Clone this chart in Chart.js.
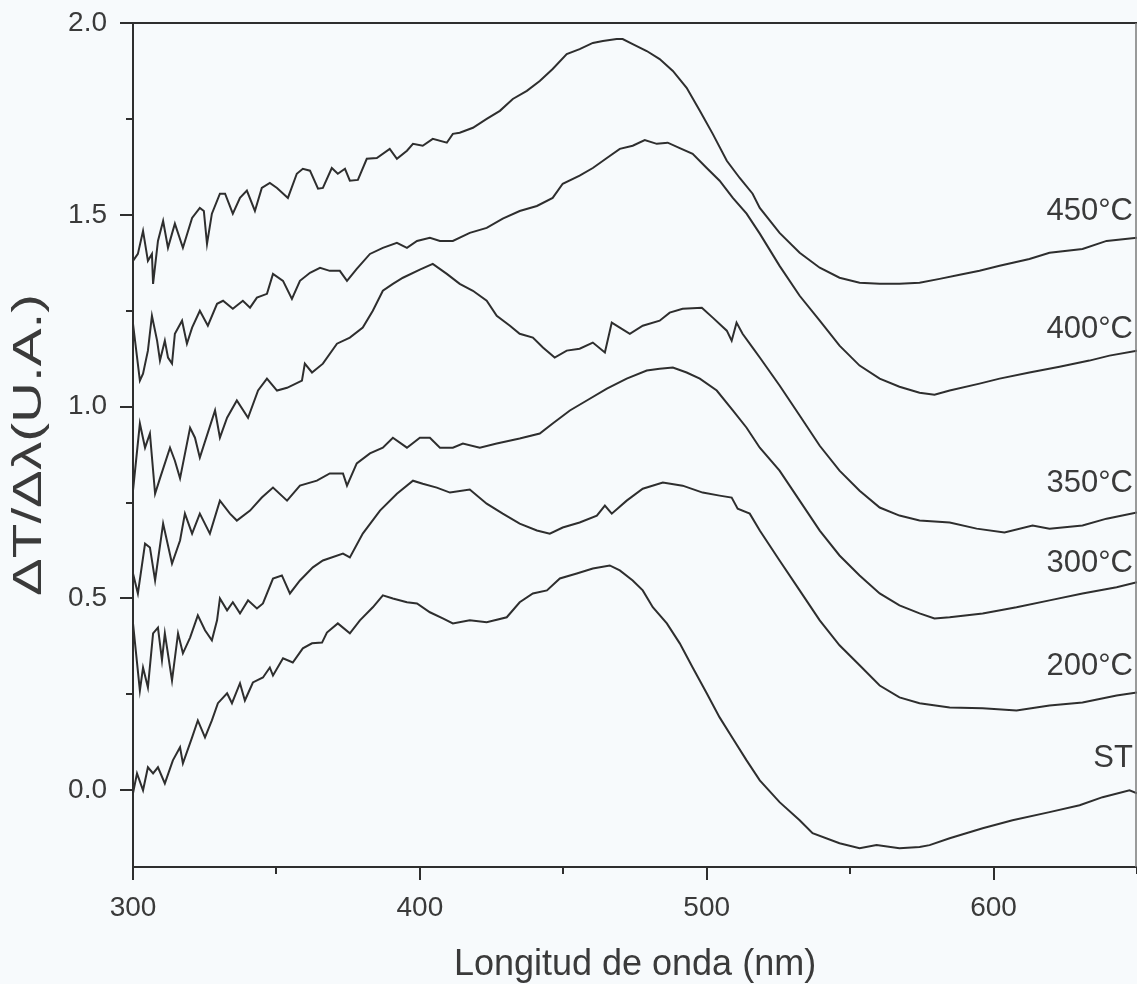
<!DOCTYPE html>
<html>
<head>
<meta charset="utf-8">
<script src="https://cdn.jsdelivr.net/npm/chart.js@4.4.1/dist/chart.umd.min.js"></script>
<style>
html,body{margin:0;padding:0;background:#f7fafc;}
#wrap{width:1137px;height:984px;position:relative;}
</style>
</head>
<body>
<div id="wrap"><canvas id="c" width="1137" height="984"></canvas></div>
<script>
// ---- Data (wavelength in nm, signal in U.A.) ----
const seriesNames = ["450°C","400°C","350°C","300°C","200°C","ST"];

const wl450 = [300.0,301.7,303.5,305.2,306.6,307.0,308.7,310.5,312.2,313.6,314.6,317.4,320.6,323.3,324.7,325.8,327.5,330.3,332.1,334.8,337.3,339.7,342.5,344.9,347.7,350.2,354.0,357.1,359.2,361.7,364.5,366.2,369.3,371.4,373.9,375.6,378.4,381.5,385.0,389.5,392.0,395.5,397.6,401.0,404.5,409.4,411.5,413.9,418.5,423.3,427.9,432.4,437.3,441.8,446.3,451.2,455.7,460.3,463.8,468.6,470.7,474.2,479.1,483.6,488.2,493.0,497.6,502.1,507.0,511.5,516.0,518.5,525.4,532.4,539.4,546.3,553.3,560.3,567.2,574.2,581.2,588.2,595.1,602.1,612.5,619.5,631.0,639.4,650.0];
const v450 = [1.380,1.398,1.458,1.380,1.398,1.320,1.432,1.484,1.414,1.451,1.477,1.414,1.492,1.518,1.510,1.424,1.503,1.555,1.555,1.503,1.544,1.563,1.510,1.570,1.583,1.570,1.544,1.607,1.620,1.615,1.568,1.570,1.622,1.607,1.620,1.589,1.591,1.646,1.648,1.672,1.646,1.667,1.685,1.680,1.698,1.688,1.711,1.714,1.727,1.750,1.771,1.802,1.823,1.849,1.880,1.919,1.932,1.948,1.953,1.958,1.958,1.945,1.927,1.906,1.875,1.831,1.771,1.711,1.641,1.596,1.555,1.518,1.453,1.401,1.362,1.336,1.323,1.320,1.320,1.323,1.333,1.344,1.354,1.367,1.385,1.401,1.411,1.432,1.440];

const wl400 = [300.0,302.4,303.5,305.2,306.6,308.4,309.4,311.1,312.2,313.6,314.6,317.1,318.8,320.6,323.3,326.1,329.3,331.4,334.8,338.3,340.8,343.2,346.7,348.8,352.3,355.4,358.2,361.7,365.2,368.6,372.1,374.6,378.0,382.6,387.1,392.0,395.5,399.0,403.5,407.0,411.5,417.4,423.3,428.9,434.8,440.8,446.3,449.8,455.7,460.3,465.2,469.7,474.2,478.4,482.6,486.4,490.6,495.1,500.0,504.5,509.1,513.9,518.5,525.4,532.4,539.4,546.3,553.3,560.3,567.2,574.2,579.4,584.7,595.1,602.1,612.5,623.0,633.4,640.4,650.0];
const v400 = [1.216,1.068,1.086,1.146,1.237,1.172,1.120,1.172,1.128,1.112,1.190,1.224,1.164,1.206,1.250,1.211,1.268,1.276,1.255,1.276,1.258,1.284,1.294,1.346,1.328,1.281,1.328,1.349,1.362,1.354,1.354,1.328,1.359,1.398,1.414,1.427,1.414,1.432,1.440,1.432,1.432,1.453,1.466,1.490,1.510,1.523,1.544,1.581,1.602,1.622,1.648,1.672,1.680,1.695,1.685,1.688,1.674,1.659,1.622,1.589,1.544,1.503,1.451,1.367,1.289,1.224,1.159,1.107,1.073,1.052,1.036,1.031,1.042,1.060,1.073,1.089,1.104,1.120,1.133,1.146];

const wl350 = [300.0,302.4,304.2,305.9,307.7,309.4,312.9,314.6,316.4,319.9,321.6,323.3,328.6,330.3,332.8,336.2,340.1,343.6,346.7,350.2,353.7,358.9,359.9,362.4,366.2,371.1,375.6,380.1,383.6,387.1,390.6,394.1,400.0,404.5,409.4,413.9,418.5,423.3,426.8,431.4,434.8,439.4,442.9,447.0,451.2,455.7,460.3,464.5,466.9,469.7,473.2,477.7,483.6,487.1,491.6,498.3,502.1,507.0,508.7,510.4,512.5,516.0,518.5,525.4,532.4,539.4,546.3,553.3,560.3,567.2,574.2,584.7,594.1,603.8,613.6,619.5,631.0,639.4,650.0];
const v350 = [0.781,0.956,0.893,0.930,0.773,0.813,0.893,0.859,0.813,0.945,0.919,0.867,0.990,0.919,0.971,1.016,0.971,1.042,1.073,1.042,1.049,1.068,1.112,1.089,1.112,1.164,1.180,1.206,1.250,1.302,1.320,1.336,1.357,1.372,1.346,1.320,1.302,1.276,1.237,1.211,1.190,1.180,1.154,1.128,1.146,1.151,1.167,1.141,1.219,1.206,1.190,1.211,1.224,1.245,1.255,1.258,1.232,1.198,1.172,1.219,1.190,1.154,1.128,1.055,0.977,0.898,0.833,0.781,0.737,0.716,0.703,0.698,0.682,0.672,0.690,0.682,0.690,0.708,0.724];

const wl300 = [300.0,301.7,304.2,305.9,307.7,310.5,313.6,316.4,318.1,320.6,323.3,326.8,330.3,333.8,336.2,340.8,344.9,348.8,353.7,358.2,364.1,368.6,373.2,374.6,378.0,382.6,387.1,390.6,395.5,400.0,403.5,407.0,411.5,415.0,420.9,426.8,434.8,441.8,446.3,452.3,458.2,465.2,472.1,479.1,483.6,488.2,493.0,497.6,503.5,509.1,513.9,518.5,525.4,532.4,539.4,546.3,553.3,560.3,567.2,574.2,579.4,584.7,596.2,608.0,619.5,631.0,642.9,650.0];
const v300 = [0.565,0.513,0.643,0.633,0.547,0.695,0.591,0.651,0.721,0.669,0.721,0.669,0.755,0.721,0.703,0.729,0.763,0.789,0.755,0.794,0.807,0.826,0.826,0.794,0.852,0.878,0.893,0.919,0.893,0.919,0.919,0.893,0.893,0.904,0.893,0.904,0.917,0.930,0.956,0.990,1.016,1.047,1.073,1.094,1.099,1.102,1.089,1.073,1.042,0.990,0.945,0.893,0.833,0.755,0.677,0.612,0.560,0.513,0.482,0.461,0.448,0.451,0.461,0.477,0.495,0.513,0.529,0.542];

const wl200 = [300.0,302.4,303.5,305.2,307.0,308.7,310.1,311.1,313.6,315.7,317.4,319.9,322.6,325.1,327.5,329.3,330.3,332.8,334.8,337.3,340.1,343.2,345.3,348.8,351.9,354.7,358.2,362.7,366.2,373.2,375.6,380.1,386.1,392.0,397.6,401.0,405.9,410.5,417.4,423.3,428.9,434.8,440.8,445.3,449.8,455.7,461.7,464.5,466.9,472.1,477.7,484.7,491.6,498.6,504.5,508.7,510.8,515.0,518.5,525.4,532.4,539.4,546.3,553.3,560.3,567.2,574.2,584.7,596.2,608.0,619.5,631.0,642.9,650.0];
const v200 = [0.435,0.260,0.320,0.268,0.409,0.424,0.339,0.409,0.286,0.409,0.357,0.398,0.456,0.417,0.391,0.443,0.500,0.469,0.490,0.461,0.495,0.474,0.487,0.552,0.560,0.513,0.547,0.581,0.599,0.617,0.607,0.669,0.729,0.773,0.807,0.799,0.789,0.776,0.784,0.747,0.721,0.695,0.677,0.669,0.685,0.698,0.716,0.742,0.721,0.755,0.786,0.802,0.794,0.776,0.768,0.763,0.734,0.721,0.677,0.599,0.521,0.443,0.378,0.326,0.273,0.242,0.227,0.216,0.214,0.208,0.221,0.229,0.247,0.255];

const wlST = [300.0,301.4,303.5,305.2,307.0,308.7,311.1,313.9,316.4,317.4,320.6,322.6,325.1,327.5,329.6,332.8,334.5,337.3,339.0,341.8,345.3,347.7,348.8,352.3,355.7,359.2,362.4,365.9,367.6,371.4,375.6,379.1,383.6,387.1,390.6,395.5,399.0,403.5,408.0,411.5,417.4,423.3,430.3,434.8,439.4,444.3,448.8,454.7,460.3,466.2,469.7,474.2,477.7,481.2,486.1,490.6,495.1,500.0,504.5,509.1,513.9,518.5,525.4,532.4,536.9,546.3,553.3,559.2,567.2,574.2,577.7,584.7,596.2,606.6,619.5,630.0,638.0,647.4,650.0];
const vST = [-0.008,0.044,0.000,0.060,0.044,0.060,0.018,0.078,0.112,0.070,0.138,0.182,0.138,0.182,0.227,0.253,0.227,0.279,0.234,0.281,0.294,0.320,0.299,0.344,0.333,0.370,0.383,0.385,0.411,0.435,0.409,0.443,0.477,0.508,0.500,0.490,0.487,0.464,0.448,0.435,0.443,0.438,0.451,0.490,0.513,0.521,0.552,0.565,0.578,0.586,0.573,0.547,0.521,0.477,0.435,0.383,0.320,0.253,0.190,0.135,0.078,0.026,-0.031,-0.078,-0.112,-0.138,-0.151,-0.143,-0.151,-0.148,-0.143,-0.125,-0.099,-0.078,-0.057,-0.039,-0.018,0.000,-0.008];

// in-plot curve labels (data coordinates)
const labelX = 648.6;
const labelY = [1.510, 1.202, 0.801, 0.592, 0.324, 0.084];

const xTickValues = [300, 400, 500, 600];
const yTickValues = [0.0, 0.5, 1.0, 1.5, 2.0];
const yTitle = 'ΔT/Δλ(U.A.)';

// ---- build ----
const xs = [wl450, wl400, wl350, wl300, wl200, wlST];
const ys = [v450, v400, v350, v300, v200, vST];
function zip(a, b){ const n = Math.min(a.length, b.length); const out = []; for (let i = 0; i < n; i++) out.push({x: a[i], y: b[i]}); return out; }

const INK = '#2e2e2e';
const TXT = '#3a3a3a';
const FONT = "'Liberation Sans', Arial, sans-serif";

const datasets = seriesNames.map((name, i) => ({
  label: name,
  data: zip(xs[i], ys[i]),
  borderColor: INK,
  borderWidth: 2,
  pointRadius: 0,
  tension: 0,
  fill: false
}));

function near(v, step){ return Math.abs(v/step - Math.round(v/step)) < 1e-6; }

const decor = {
  id: 'decor',
  beforeDraw(chart){
    const c = chart.ctx;
    c.save(); c.fillStyle = '#f7fafc'; c.fillRect(0, 0, chart.width, chart.height); c.restore();
  },
  afterDraw(chart){
    const c = chart.ctx;
    const {left, right, top, bottom} = chart.chartArea;
    const sx = chart.scales.x, sy = chart.scales.y;
    c.save();
    c.strokeStyle = INK; c.lineWidth = 2; c.lineCap = 'butt';
    c.beginPath();
    c.moveTo(left, top - 1); c.lineTo(left, bottom + 1);
    c.moveTo(left - 1, bottom); c.lineTo(right, bottom);
    c.moveTo(left - 1, top); c.lineTo(right, top);
    c.stroke();
    c.strokeStyle = '#7a7a7a'; c.lineWidth = 1.5;
    c.beginPath(); c.moveTo(right - 1, top); c.lineTo(right - 1, bottom); c.stroke();
    // ticks
    c.strokeStyle = INK; c.lineWidth = 2;
    c.beginPath();
    sy.ticks.forEach(t => {
      if (!near(t.value, 0.25)) return;
      const p = Math.round(sy.getPixelForValue(t.value));
      const len = near(t.value, 0.5) ? 13 : 7;
      c.moveTo(left - len, p); c.lineTo(left, p);
    });
    sx.ticks.forEach(t => {
      if (!near(t.value, 50)) return;
      const p = Math.round(sx.getPixelForValue(t.value));
      const len = near(t.value, 100) ? 13 : 7;
      c.moveTo(p, bottom); c.lineTo(p, bottom + len);
    });
    c.stroke();
    // curve labels
    c.fillStyle = TXT;
    c.font = "31px " + FONT;
    c.textAlign = 'right'; c.textBaseline = 'middle';
    seriesNames.forEach((n, i) => {
      c.fillText(n, sx.getPixelForValue(labelX), sy.getPixelForValue(labelY[i]));
    });
    // y-axis title (rotated, slightly widened like the original)
    c.translate(30, (top + bottom) / 2);
    c.rotate(-Math.PI / 2);
    c.font = "40px " + FONT;
    const w = c.measureText(yTitle).width;
    c.scale(302 / w, 1);
    c.textAlign = 'center'; c.textBaseline = 'middle';
    c.fillText(yTitle, 0, 0);
    c.restore();
  }
};

new Chart(document.getElementById('c'), {
  type: 'line',
  data: { datasets },
  options: {
    responsive: false,
    animation: false,
    events: [],
    layout: { padding: { top: 23, right: 0, left: 0, bottom: 0 } },
    plugins: { legend: { display: false }, tooltip: { enabled: false } },
    scales: {
      x: {
        type: 'linear', min: 300, max: 650,
        afterFit(s){ s.height = 117; s.paddingLeft = 0; s.paddingRight = 0; },
        border: { display: false },
        grid: { display: true, drawOnChartArea: false, drawTicks: true, tickLength: 13, tickColor: 'rgba(0,0,0,0)' },
        ticks: {
          stepSize: 50, padding: 11, color: TXT, maxRotation: 0, autoSkip: false,
          font: { family: FONT, size: 28 },
          callback: v => xTickValues.includes(v) ? String(v) : ''
        },
        title: { display: true, text: 'Longitud de onda (nm)', color: TXT,
          font: { family: FONT, size: 36, lineHeight: 1 }, padding: { top: 0, bottom: 1 } }
      },
      y: {
        type: 'linear', min: -0.2, max: 2.0,
        afterFit(s){ s.width = 133; s.paddingTop = 0; s.paddingBottom = 0; },
        afterBuildTicks(s){ s.ticks = s.ticks.filter(t => near(t.value, 0.25)); },
        border: { display: false },
        grid: { display: true, drawOnChartArea: false, drawTicks: true, tickLength: 13, tickColor: 'rgba(0,0,0,0)' },
        ticks: {
          stepSize: 0.25, padding: 13, color: TXT, autoSkip: false,
          font: { family: FONT, size: 28 },
          callback: v => yTickValues.some(t => Math.abs(t - v) < 1e-6) ? v.toFixed(1) : ''
        },
        title: { display: false }
      }
    }
  },
  plugins: [decor]
});
</script>
</body>
</html>
